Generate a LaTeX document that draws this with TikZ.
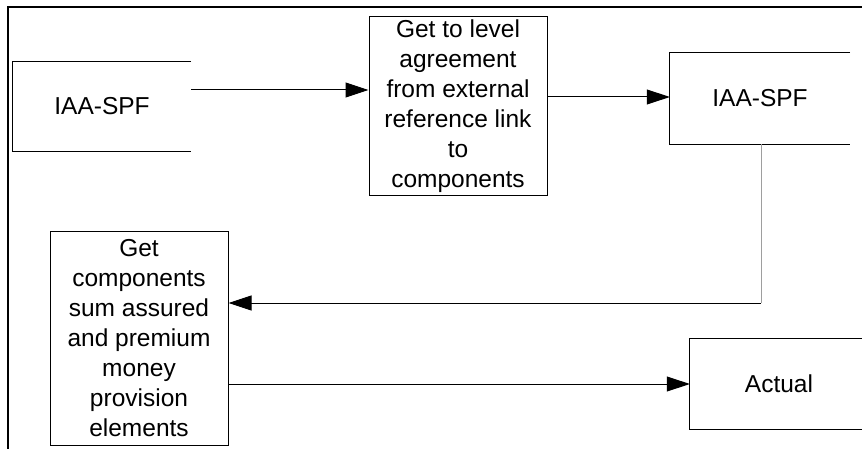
\documentclass[tikz,border=0pt]{standalone}
\usepackage{fontspec}
\setmainfont{Liberation Sans}
\usetikzlibrary{arrows.meta}
\begin{document}
\begin{tikzpicture}[x=1pt,y=-1pt,
  boxtext/.style={inner sep=0pt, align=center,
    font=\fontsize{24.5}{30}\selectfont},
  fullbox/.style={boxtext, draw, line width=1pt},
  openbox/.style={line width=1pt},
  flow/.style={line width=1pt, -{Triangle[length=23pt,width=15pt]}},
  frame/.style={line width=1.8pt},
  graywire/.style={line width=1pt, draw=black!38}]
  \clip (0,0) rectangle (862,449);
  % page frame
  \draw[frame] (862,7) -- (8,7) -- (8,449);

  % boxes
  \node[boxtext, minimum width=178pt, minimum height=89pt] (b1) at (102,106.5) {IAA-SPF};
  \node[fullbox, minimum width=178pt, minimum height=179pt] (b2) at (458,106.5)
    {Get to level\\agreement\\from external\\reference link\\to\\components};
  \node[boxtext, minimum width=180pt, minimum height=91pt] (b3) at (760,98.5) {IAA-SPF};
  \node[fullbox, minimum width=178pt, minimum height=213pt] (b4) at (139,338.5)
    {Get\\components\\sum assured\\and premium\\money\\provision\\elements};
  \node[boxtext, minimum width=178pt, minimum height=90pt] (b5) at (779,384) {Actual};

  % open-sided outlines
  \draw[openbox] (b1.north east) -- (b1.north west) -- (b1.south west) -- (b1.south east);
  \draw[openbox] (b3.north east) -- (b3.north west) -- (b3.south west) -- (b3.south east);
  \draw[openbox] (b5.north east) -- (b5.north west) -- (b5.south west) -- (b5.south east);

  % connectors
  \draw[flow] ([yshift=16.5pt]b1.east) -- ([yshift=16.5pt]b1.east -| b2.west);
  \draw[flow] ([yshift=1.5pt]b2.east |- b3.west) -- ([yshift=1.5pt]b3.west);
  \coordinate (turn) at (761,303);
  \draw[graywire] (b3.south -| turn) -- (turn);
  \draw[flow] (turn) -- (b4.east |- turn);
  \draw[flow] (b4.east |- b5.west) -- (b5.west);
\end{tikzpicture}
\end{document}
